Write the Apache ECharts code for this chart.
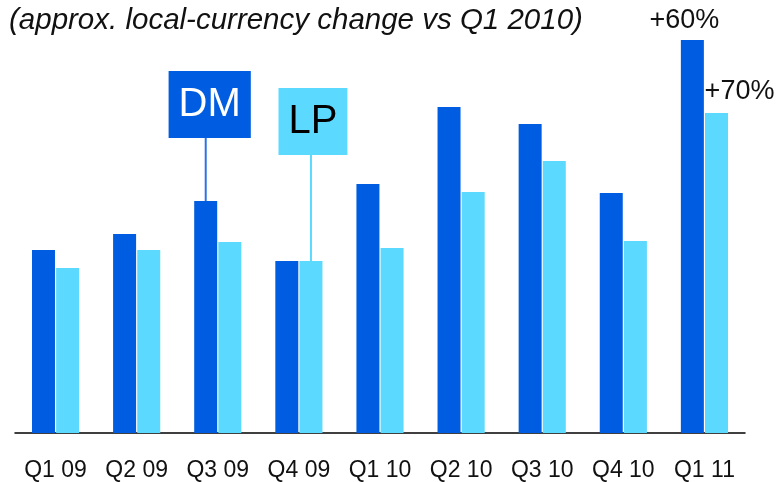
<!DOCTYPE html>
<html>
<head>
<meta charset="utf-8">
<script src="https://cdn.jsdelivr.net/npm/echarts@6/dist/echarts.min.js"></script>
<style>
  html, body { margin: 0; padding: 0; background: #fff; }
  #chart { width: 784px; height: 482px; }
</style>
</head>
<body>
<div id="chart"></div>
<script>
// index (arbitrary units)
const categories = ['Q1 09', 'Q2 09', 'Q3 09', 'Q4 09', 'Q1 10', 'Q2 10', 'Q3 10', 'Q4 10', 'Q1 11'];
const dmValues = [183, 199, 232, 172, 249, 326, 309, 240, 393];
const lpValues = [165, 183, 191, 172, 185, 241, 272, 192, 320];
const titleText = '(approx. local-currency change vs Q1 2010)';

const DARK = '#005CE0';
const LIGHT = '#5BD9FF';

const chart = echarts.init(document.getElementById('chart'));

const dmData = dmValues.map((v, i) => {
    if (i === 2) {
        return {
            value: v,
            label: {
                show: true, position: 'top', distance: 63, offset: [4, 0],
                formatter: 'DM', color: '#fff', fontSize: 40, lineHeight: 44,
                backgroundColor: DARK, padding: [12, 10, 11, 10],
                fontFamily: 'Liberation Sans'
            }
        };
    }
    if (i === 8) {
        return {
            value: v,
            label: {
                show: true, position: 'top', distance: 6, offset: [-8, 0],
                formatter: '+60%', color: '#111', fontSize: 27,
                fontFamily: 'Liberation Sans'
            }
        };
    }
    return v;
});

const lpData = lpValues.map((v, i) => {
    if (i === 3) {
        return {
            value: v,
            label: {
                show: true, position: 'top', distance: 106, offset: [2, 0],
                formatter: 'LP', color: '#000', fontSize: 40, lineHeight: 44,
                backgroundColor: LIGHT, padding: [12, 10, 11, 10],
                fontFamily: 'Liberation Sans'
            }
        };
    }
    if (i === 8) {
        return {
            value: v,
            label: {
                show: true, position: 'top', distance: 8, offset: [23, 0],
                formatter: '+70%', color: '#111', fontSize: 27,
                fontFamily: 'Liberation Sans'
            }
        };
    }
    return v;
});

const options = {
    animation: false,
    title: {
        text: titleText,
        left: 4,
        top: 1,
        textStyle: {
            fontFamily: 'Liberation Sans',
            fontStyle: 'italic',
            fontWeight: 'normal',
            fontSize: 29.5,
            color: '#111'
        }
    },
    grid: { left: 15, right: 39, top: 0, bottom: 49 },
    xAxis: {
        type: 'category',
        data: categories,
        axisLine: { lineStyle: { color: '#000', width: 1.5 } },
        axisTick: { show: false },
        axisLabel: {
            interval: 0,
            color: '#111', fontSize: 23, margin: 26,
            fontFamily: 'Liberation Sans'
        }
    },
    yAxis: {
        type: 'value',
        min: 0,
        max: 433,
        show: false
    },
    series: [
        {
            type: 'bar', data: dmData, barWidth: 23, barGap: '5%',
            itemStyle: { color: DARK }
        },
        {
            type: 'bar', data: lpData, barWidth: 23,
            itemStyle: { color: LIGHT }
        }
    ]
};
chart.setOption(options);

// leader lines from the boxes down to the bars
const addLeader = (seriesIndex, dataIndex, distance, color) => {
    const layout = chart.getModel().getSeriesByIndex(seriesIndex).getData().getItemLayout(dataIndex);
    const cx = layout.x + layout.width / 2;
    const top = Math.min(layout.y, layout.y + layout.height);
    return {
        type: 'line',
        shape: { x1: cx, y1: top, x2: cx, y2: top - distance },
        style: { stroke: color, lineWidth: 2 },
        z: 0
    };
};
chart.setOption({
    graphic: [
        addLeader(0, 2, 63, '#2A72E2'),
        addLeader(1, 3, 106, LIGHT)
    ]
});
</script>
</body>
</html>
